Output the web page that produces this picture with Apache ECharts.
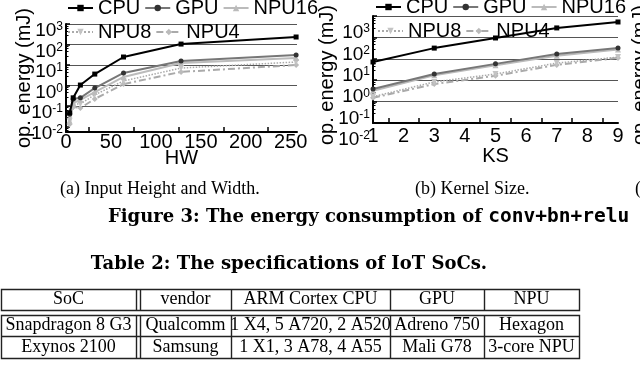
<!DOCTYPE html>
<html>
<head>
<meta charset="utf-8">
<script src="https://cdn.jsdelivr.net/npm/echarts@6.0.0/dist/echarts.min.js"></script>
<style>
  html, body { margin: 0; padding: 0; background: #fff; }
  #chart { width: 640px; height: 390px; }
</style>
</head>
<body>
<div id="chart"></div>
<script>
// (a) input height / width sweep, energy in mJ
const hwValues = [4, 8, 16, 32, 64, 128, 256];
const hwCPU   = [0.046, 0.25, 1.05, 3.6, 24.5, 105, 232];
const hwGPU   = [0.04, 0.22, 0.25, 0.75, 4.1, 15.7, 30.6];
const hwNPU16 = [0.019, 0.14, 0.2, 0.48, 2.6, 12.6, 22];
const hwNPU8  = [0.019, 0.126, 0.126, 0.35, 1.66, 7.1, 14];
const hwNPU4  = [0.013, 0.09, 0.08, 0.22, 1.17, 4.6, 10];

// (b) kernel size sweep
const ksValues = [1, 3, 5, 7, 9];
const ksCPU   = [7.1, 31.6, 94, 277, 525];
const ksGPU   = [0.39, 1.95, 5.8, 16.6, 31.6];
const ksNPU16 = [0.32, 1.7, 5, 14, 27];
const ksNPU8  = [0.17, 0.83, 1.95, 6.3, 12];
const ksNPU4  = [0.15, 0.66, 1.6, 5.2, 11];

// tick labels
const hwLabels = [0, 50, 100, 150, 200, 250];
const hwTicks  = [25, 75, 125, 175, 225];
const ksLabels = [1, 2, 3, 4, 5, 6, 7, 8, 9];
const ksTicks  = [1.5, 2.5, 3.5, 4.5, 5.5, 6.5, 7.5, 8.5];

// table 2
const tableHead = ['SoC', 'vendor', 'ARM Cortex CPU', 'GPU', 'NPU'];
const tableRows = [
  ['Snapdragon 8 G3', 'Qualcomm', '1 X4, 5 A720, 2 A520', 'Adreno 750', 'Hexagon'],
  ['Exynos 2100', 'Samsung', '1 X1, 3 A78, 4 A55', 'Mali G78', '3-core NPU']
];

const SANS = "'Liberation Sans', Arial, sans-serif";
const SERIF = "'Liberation Serif', 'Times New Roman', serif";

const look = {
  CPU:   { line: '#000', mark: '#000', symbol: 'rect', size: 5, type: 'solid', width: 2 },
  GPU:   { line: '#777', mark: '#333', symbol: 'circle', size: 5, type: 'solid', width: 2 },
  NPU16: { line: '#bbb', mark: '#bbb', symbol: 'triangle', size: 6, type: 'solid', width: 2 },
  NPU8:  { line: '#aaa', mark: '#c4c4c4', symbol: 'triangle', size: 6, type: 'dotted', width: 1.5, rotate: 180 },
  NPU4:  { line: '#aaa', mark: '#bbb', symbol: 'diamond', size: 6, type: [7, 3, 2, 3], width: 2 }
};

function mkLine(name, xs, ys, idx, z) {
  const s = look[name];
  return {
    type: 'line', name, xAxisIndex: idx, yAxisIndex: idx,
    data: xs.map((x, i) => [x, ys[i]]),
    symbol: s.symbol, symbolSize: s.size, symbolRotate: s.rotate || 0,
    lineStyle: { color: s.line, width: s.width, type: s.type },
    itemStyle: { color: s.mark },
    z: z, animation: false
  };
}

function powLabel(v) {
  const e = Math.log10(v);
  const r = Math.round(e);
  if (Math.abs(e - r) > 1e-6) return '';
  return '{b|10}{s|' + r + '}';
}

const powRich = {
  b: { fontSize: 19, lineHeight: 20, fontFamily: SANS, color: '#000' },
  s: { fontSize: 12, lineHeight: 12, verticalAlign: 'top', fontFamily: SANS, color: '#000' }
};

function mkYAxis(idx, min, shift, nameGap, namePad, gridColors) {
  return {
    type: 'log', gridIndex: idx, logBase: 10, min: min, max: 1000,
    name: 'op. energy (mJ)', nameLocation: 'middle', nameGap: nameGap,
    nameMoveOverlap: false,
    nameTextStyle: { fontSize: 20, color: '#000', fontFamily: SANS, padding: namePad },
    axisLine: { show: true, lineStyle: { color: '#000', width: 2 } },
    axisTick: { show: true, inside: true, length: 4, lineStyle: { color: '#000', width: 1.5 } },
    minorTick: { show: true, splitNumber: 5, length: 2.5, lineStyle: { color: '#000' } },
    splitLine: { show: true, showMaxLine: true, lineStyle: { color: gridColors, width: 1.2 } },
    axisLabel: {
      formatter: powLabel, margin: 3, color: '#000',
      // push the text down without growing the label box
      padding: [shift, 0, -shift, 0],
      showMaxLabel: true, showMinLabel: true, hideOverlap: false,
      rich: powRich
    }
  };
}

function mkXAxis(idx, min, max, labels, ticks, name, margin, nameGap) {
  return {
    type: 'value', gridIndex: idx, min: min, max: max,
    name: name, nameLocation: 'middle', nameGap: nameGap, nameMoveOverlap: false,
    nameTextStyle: { fontSize: 20, color: '#000', fontFamily: SANS },
    axisLine: { show: true, onZero: false, lineStyle: { color: '#000', width: 2 } },
    axisTick: { show: true, inside: true, length: 5, customValues: ticks, lineStyle: { color: '#000', width: 1.5 } },
    axisLabel: { customValues: labels, margin: margin, fontSize: 20, color: '#000', fontFamily: SANS },
    splitLine: { show: false }
  };
}

const legendBase = {
  orient: 'horizontal', itemWidth: 25, itemHeight: 8, itemGap: 4, padding: 0,
  selectedMode: false,
  textStyle: { fontSize: 20, color: '#000', fontFamily: SANS }
};

// table drawing
const colEdges = [1, 138, 231, 390, 484, 579];
const headBox = [289, 310];
const bodyBox = [315, 358];
const rowSplit = 336;
const rowMid = [299.5, 325.5, 347];

const tableGraphics = [];
const stroke = { stroke: '#222', lineWidth: 1.4, fill: 'rgba(0,0,0,0)' };
[headBox, bodyBox].forEach(b => {
  tableGraphics.push({ type: 'rect', shape: { x: colEdges[0] + 0.5, y: b[0] + 0.5, width: colEdges[5] - colEdges[0], height: b[1] - b[0] }, style: stroke });
  for (let c = 1; c < colEdges.length - 1; c++) {
    const xs = c === 1 ? [colEdges[1] - 2, colEdges[1] + 2] : [colEdges[c]];
    xs.forEach(x => tableGraphics.push({ type: 'line', shape: { x1: x + 0.5, y1: b[0], x2: x + 0.5, y2: b[1] }, style: stroke }));
  }
});
tableGraphics.push({ type: 'line', shape: { x1: colEdges[0], y1: rowSplit + 0.5, x2: colEdges[5], y2: rowSplit + 0.5 }, style: stroke });

[tableHead].concat(tableRows).forEach((row, r) => {
  row.forEach((cell, c) => {
    const l = c === 1 ? colEdges[1] + 2 : colEdges[c];
    const rgt = c === 0 ? colEdges[1] - 2 : colEdges[c + 1];
    tableGraphics.push({
      type: 'text', x: (l + rgt) / 2, y: rowMid[r],
      style: { text: cell, fontSize: 18, fontFamily: SERIF, fill: '#000', align: 'center', verticalAlign: 'middle' }
    });
  });
});

const textGraphics = [
  { type: 'text', x: 60, y: 189, style: { text: '(a) Input Height and Width.', fontSize: 18, fontFamily: SERIF, fill: '#000', align: 'left', verticalAlign: 'middle' } },
  { type: 'text', x: 415, y: 189, style: { text: '(b) Kernel Size.', fontSize: 18, fontFamily: SERIF, fill: '#000', align: 'left', verticalAlign: 'middle' } },
  { type: 'text', x: 635, y: 189, style: { text: '(c)', fontSize: 18, fontFamily: SERIF, fill: '#000', align: 'left', verticalAlign: 'middle' } },
  { type: 'text', x: 108, y: 217, style: {
      text: '{t|Figure 3: The energy consumption of }{m|conv+bn+relu}',
      align: 'left', verticalAlign: 'middle',
      rich: {
        t: { fontSize: 18, fontWeight: 'bold', fontFamily: "'DejaVu Serif', serif", fill: '#000', color: '#000' },
        m: { fontSize: 19.5, fontWeight: 'bold', fontFamily: "'DejaVu Sans Mono', monospace", fill: '#000', color: '#000' }
      } } },
  { type: 'text', x: 289, y: 264, style: { text: 'Table 2: The specifications of IoT SoCs.', fontSize: 18, fontWeight: 'bold', fontFamily: "'DejaVu Serif', serif", fill: '#000', align: 'center', verticalAlign: 'middle' } },
  { type: 'text', x: 640, y: 75, rotation: Math.PI / 2, style: { text: 'op. energy (mJ)', fontSize: 20, fontFamily: SANS, fill: '#000', align: 'center', verticalAlign: 'middle' } }
];

const names = ['CPU', 'GPU', 'NPU16', 'NPU8', 'NPU4'];
const hwSets = [hwCPU, hwGPU, hwNPU16, hwNPU8, hwNPU4];
const ksSets = [ksCPU, ksGPU, ksNPU16, ksNPU8, ksNPU4];

const option = {
  backgroundColor: '#fff',
  animation: false,
  textStyle: { fontFamily: SANS },
  grid: [
    { left: 66, right: 343, top: 24, bottom: 258, outerBoundsMode: 'none' },
    { left: 373, right: 22, top: 16, bottom: 267, outerBoundsMode: 'none' }
  ],
  xAxis: [
    mkXAxis(0, 0, 257, hwLabels, hwTicks, 'HW', 0, 16),
    mkXAxis(1, 1, 9, ksLabels, ksTicks, 'KS', 3, 23)
  ],
  yAxis: [
    mkYAxis(0, Math.pow(10, -2.27), 7, 32, [0, 0, 0, 0],
      ['#555', 'rgba(0,0,0,0)', '#555', '#555', '#555', '#555', '#555']),
    mkYAxis(1, 0.01, 17, 36, [0, 11, 0, 0], ['#555'])
  ],
  legend: [
    Object.assign({}, legendBase, { data: ['CPU', 'GPU', 'NPU16'], left: 67, top: -2 }),
    Object.assign({}, legendBase, { data: ['NPU8', 'NPU4'], left: 67, top: 22 }),
    Object.assign({}, legendBase, { data: ['CPU', 'GPU', 'NPU16'], left: 375, top: -3 }),
    Object.assign({}, legendBase, { data: ['NPU8', 'NPU4'], left: 377, top: 21 })
  ],
  series: names.map((n, i) => mkLine(n, hwValues, hwSets[i], 0, 10 - i))
    .concat(names.map((n, i) => mkLine(n, ksValues, ksSets[i], 1, 10 - i))),
  graphic: tableGraphics.concat(textGraphics)
};

const chart = echarts.init(document.getElementById('chart'), null, { renderer: 'canvas' });
chart.setOption(option);
</script>
</body>
</html>
